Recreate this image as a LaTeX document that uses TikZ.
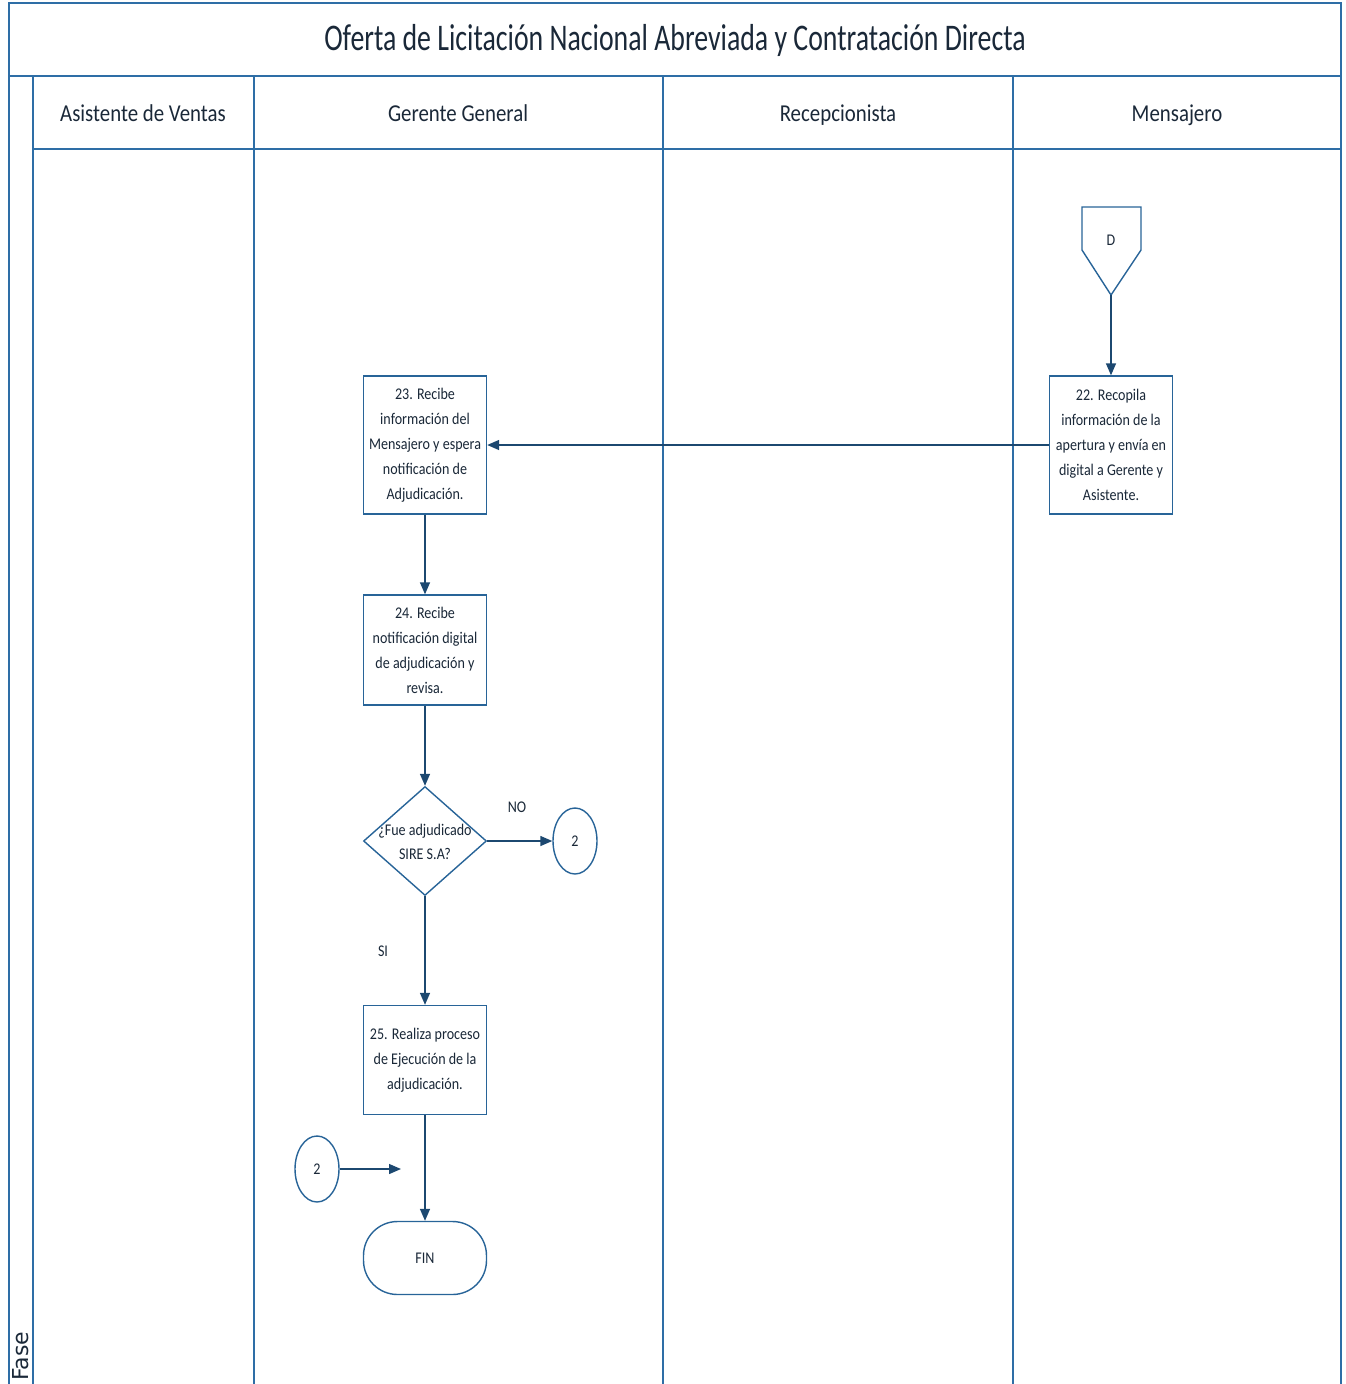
\documentclass[tikz,border=0pt]{standalone}
\usepackage{fontspec}
\setmainfont{Carlito}[FakeStretch=0.86]
\newfontfamily\titlefont{Carlito}[FakeStretch=0.74]
\newfontfamily\fasefont{DejaVu Sans}
\usepackage{xcolor}
\definecolor{lane-blue}{RGB}{46,110,166}
\definecolor{shape-blue}{RGB}{40,100,152}
\definecolor{arrow-navy}{RGB}{28,72,112}
\definecolor{ink}{RGB}{26,40,56}
\usetikzlibrary{arrows.meta,shapes.geometric}

\begin{document}
\begin{tikzpicture}[
    x=0.02cm, y=-0.02cm,
    every node/.style={text=ink},
    lane/.style={draw=lane-blue, line width=1.1pt},
    process/.style={draw=shape-blue, line width=0.8pt, fill=white,
        minimum width=2.46cm, inner sep=0pt, align=center,
        font=\fontsize{9.3}{14.2}\selectfont},
    decision/.style={draw=shape-blue, line width=0.8pt, diamond,
        minimum width=2.46cm, minimum height=2.18cm, inner sep=0pt},
    connector/.style={draw=shape-blue, line width=0.8pt, ellipse,
        minimum width=0.88cm, minimum height=1.32cm, inner sep=0pt,
        font=\fontsize{9.3}{11}\selectfont},
    terminal/.style={draw=shape-blue, line width=0.8pt, rounded corners=0.68cm,
        minimum width=2.46cm, minimum height=1.46cm, inner sep=0pt,
        font=\fontsize{9.3}{11}\selectfont},
    lanehead/.style={font=\fontsize{13.8}{16}\selectfont, anchor=base},
    flow/.style={draw=arrow-navy, line width=0.8pt,
        -{Triangle[length=0.24cm,width=0.2cm]}},
    answer/.style={font=\fontsize{9.3}{11}\selectfont}
]
\useasboundingbox (0,0) rectangle (1346,1384);

% Pool frame and title band
\draw[lane] (9,1384) -- (9,3) -- (1341,3) -- (1341,1384);
\draw[lane] (9,76) -- (1341,76);
\node[font=\titlefont\fontsize{21.4}{24}\selectfont] (title) at (675,40)
    {Oferta de Licitación Nacional Abreviada y Contratación Directa};

% Lane headers and separators
\draw[lane] (33,149) -- (1341,149);
\foreach \xl in {33,254,663,1013}
    \draw[lane] (\xl,76) -- (\xl,1384);
\node[lanehead] (asistente) at (143,121) {Asistente de Ventas};
\node[lanehead] (gerente) at (458,121) {Gerente General};
\node[lanehead] (recepcion) at (838,121) {Recepcionista};
\node[lanehead] (mensajero) at (1177,121) {Mensajero};

% Phase strip
\node[font=\fasefont\fontsize{12.5}{14}\selectfont, rotate=90, anchor=west,
    inner sep=0pt] (fase) at (21,1381) {Fase};

% Off-page connector D
\draw[shape-blue, line width=0.8pt, fill=white]
    (1082,207) -- (1141,207) -- (1141,250) -- (1111,295) -- (1082,250) -- cycle;
\node[font=\fontsize{9.3}{11}\selectfont] (offD) at (1111,240) {D};
\coordinate (offDtip) at (1111,295);

% Process steps
\node[process, minimum height=2.76cm] (p22) at (1111,445)
    {22. Recopila\\información de la\\apertura y envía en\\digital a Gerente y\\Asistente.};
\node[process, minimum height=2.76cm] (p23) at (425,445)
    {23. Recibe\\información del\\Mensajero y espera\\notificación de\\Adjudicación.};
\node[process, minimum height=2.2cm] (p24) at (425,650)
    {24. Recibe\\notificación digital\\de adjudicación y\\revisa.};
\node[decision] (dec) at (425,841) {};
\node[font=\fontsize{9.3}{13.6}\selectfont, align=center] (declabel) at (425,842)
    {¿Fue adjudicado\\SIRE S.A?};
\node[process, minimum height=2.18cm] (p25) at (425,1060)
    {25. Realiza proceso\\de Ejecución de la\\adjudicación.};
\node[terminal] (fin) at (425,1258) {FIN};

% Page connectors
\node[connector] (conNo) at (575,841) {2};
\node[connector] (conIn) at (317,1169) {2};
\coordinate (conInEnd) at (401,1169);

% Flow
\draw[flow] (offDtip) -- (p22.north);
\draw[flow] (p22.west) -- (p23.east);
\draw[flow] (p23.south) -- (p24.north);
\draw[flow] (p24.south) -- (dec.north);
\draw[flow] (dec.east) -- (conNo.west);
\draw[flow] (dec.south) -- (p25.north);
\draw[flow] (p25.south) -- (fin.north);
\draw[flow] (conIn.east) -- (conInEnd);

% Decision answers
\node[answer] (ansNo) at (517,807) {NO};
\node[answer] (ansSi) at (383,951) {SI};

\end{tikzpicture}
\end{document}
